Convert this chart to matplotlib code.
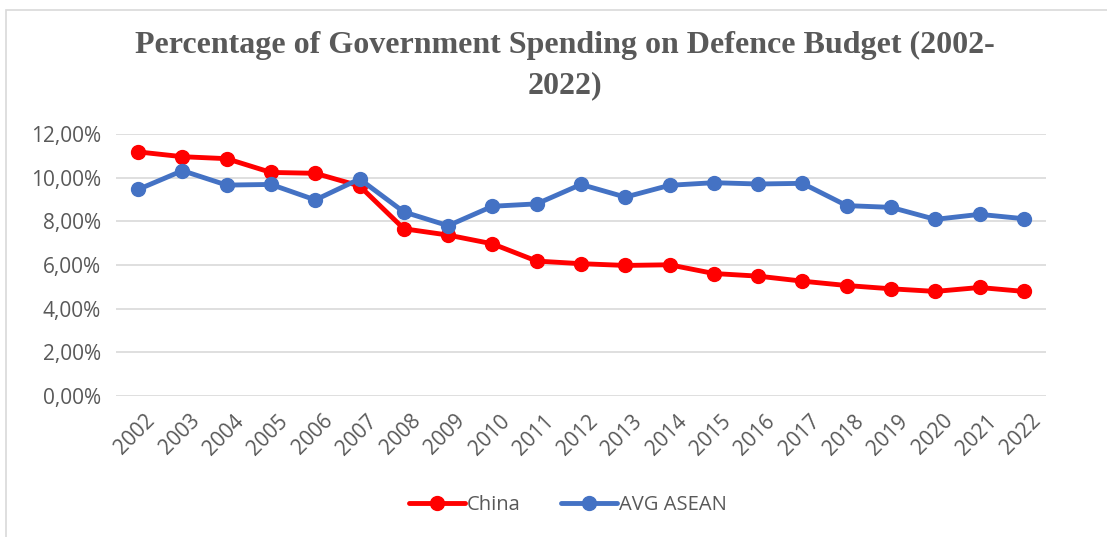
import matplotlib.pyplot as plt
from matplotlib.patches import Rectangle
from matplotlib.ticker import FuncFormatter
from matplotlib.transforms import ScaledTranslation

years = [str(y) for y in range(2002, 2023)]
china = [11.18, 10.96, 10.87, 10.24, 10.20, 9.62, 7.66, 7.37, 6.97, 6.18,
         6.06, 5.98, 6.01, 5.61, 5.49, 5.26, 5.06, 4.91, 4.79, 4.97, 4.79]
asean = [9.46, 10.32, 9.66, 9.69, 8.98, 9.94, 8.43, 7.80, 8.69, 8.80,
         9.69, 9.11, 9.65, 9.77, 9.71, 9.74, 8.72, 8.64, 8.09, 8.32, 8.12]

TEXT_GREY = "#595959"

fig = plt.figure(figsize=(11.07, 5.37), dpi=100)
fig.patches.append(Rectangle((6 / 1107, -0.1), 1.2, (537 - 10) / 537 + 0.1,
                             transform=fig.transFigure, fill=False,
                             edgecolor="#d9d9d9", linewidth=1.2))

ax = fig.add_axes([116 / 1107, 141 / 537, 930 / 1107, 262 / 537])
x = range(len(years))
ax.plot(x, china, color="#ff0000", linewidth=3.5, marker="o", markersize=10,
        label="China", solid_capstyle="round")
ax.plot(x, asean, color="#4472c4", linewidth=3.5, marker="o", markersize=10,
        label="AVG ASEAN", solid_capstyle="round")

ax.set_xlim(-0.5, len(years) - 0.5)
ax.set_ylim(0, 12)
ax.set_yticks(range(0, 13, 2))
ax.yaxis.set_major_formatter(FuncFormatter(lambda v, p: f"{v:.2f}%".replace(".", ",")))
ax.set_xticks(list(x))
ax.set_xticklabels(years, rotation=45, ha="right", va="center", rotation_mode="anchor")
ax.grid(axis="y", color="#d9d9d9", linewidth=1.2)
ax.set_axisbelow(True)
for s in ax.spines.values():
    s.set_visible(False)
ax.tick_params(length=0, colors=TEXT_GREY, labelsize=15)
ax.tick_params(axis="y", pad=11)
ax.tick_params(axis="x", pad=0)
shift = ScaledTranslation(14 / 100, -22 / 100, fig.dpi_scale_trans)
for lab in ax.get_xticklabels():
    lab.set_family("Open Sans")
    lab.set_transform(lab.get_transform() + shift)
for lab in ax.get_yticklabels():
    lab.set_family("Open Sans")

fig.text(0.51, 0.915, "Percentage of Government Spending on Defence Budget (2002-",
         ha="center", va="center", fontsize=23, fontweight="bold",
         family="Liberation Serif", color=TEXT_GREY)
fig.text(0.51, 0.840, "2022)", ha="center", va="center", fontsize=23,
         fontweight="bold", family="Liberation Serif", color=TEXT_GREY)

leg = fig.legend(loc="center", bbox_to_anchor=(0.513, 0.06), ncol=2,
                 frameon=False, handlelength=2.8, columnspacing=2.0,
                 handletextpad=0.1, prop={"family": "Open Sans", "size": 14.5})
for t in leg.get_texts():
    t.set_color(TEXT_GREY)

fig.savefig("out.png", dpi=100)
